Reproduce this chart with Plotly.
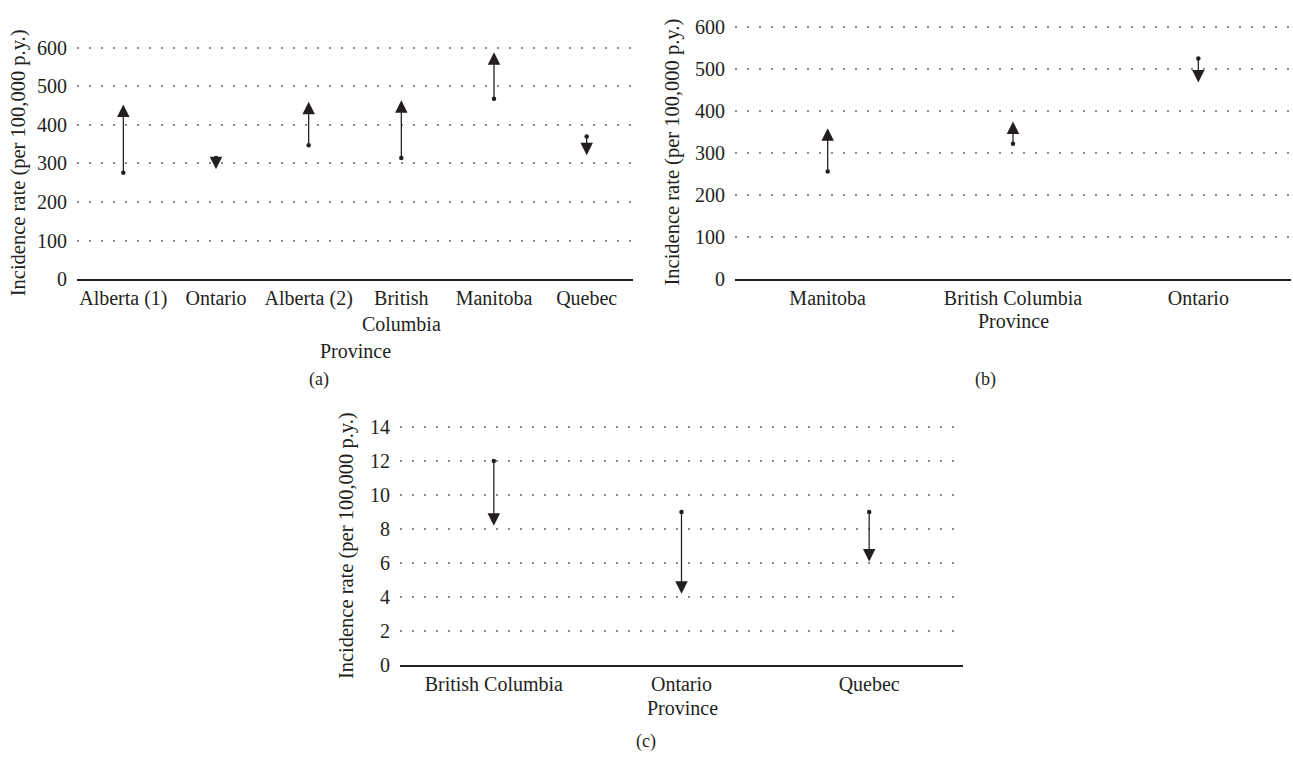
import plotly.graph_objects as go

FONT = "Liberation Serif"
INK = "#231f20"
GRID = "#8a8a8a"

# ---- data ----
a_categories = ["Alberta (1)", "Ontario", "Alberta (2)", "British<br>Columbia", "Manitoba", "Quebec"]
a_start = [276, 314, 347, 314, 468, 370]
a_end = [453, 285, 460, 464, 588, 321]

b_categories = ["Manitoba", "British Columbia", "Ontario"]
b_start = [255, 321, 524]
b_end = [358, 374, 467]

c_categories = ["British Columbia", "Ontario", "Quebec"]
c_start = [12, 9, 9]
c_end = [8.2, 4.2, 6.1]

y_ticks_ab = [0, 100, 200, 300, 400, 500, 600]
y_ticks_c = [0, 2, 4, 6, 8, 10, 12, 14]

W, H = 1293, 770

def px(x):
    return x / W

def py(y):
    return 1 - y / H

def ylayout(p0, ptop, vtop, extra):
    """domain/range so that 0 sits at pixel p0 and vtop at pixel ptop, with a bit of headroom."""
    per = (p0 - ptop) / vtop
    top_px = ptop - extra * per
    return [py(p0), py(top_px)], [0, vtop + extra]

fig = go.Figure()

panels = [
    ("x", "y", a_categories, a_start, a_end),
    ("x2", "y2", b_categories, b_start, b_end),
    ("x3", "y3", c_categories, c_start, c_end),
]

annotations = []
for xr, yr, cats, st, en in panels:
    idx = list(range(len(cats)))
    fig.add_trace(go.Scatter(
        x=idx, y=st, xaxis=xr, yaxis=yr, mode="markers",
        marker=dict(size=4.5, color=INK), hoverinfo="skip", showlegend=False,
        cliponaxis=False,
    ))
    for i, s, e in zip(idx, st, en):
        annotations.append(dict(
            xref=xr, yref=yr, axref=xr, ayref=yr,
            x=i, y=e, ax=i, ay=s, text="", showarrow=True,
            arrowhead=2, arrowsize=2.0, arrowwidth=1.25, arrowcolor=INK,
            standoff=0, startstandoff=0,
        ))

tickfont = dict(family=FONT, size=20, color=INK)

def xaxis_cfg(cats, dom, anchor):
    return dict(
        domain=dom, anchor=anchor, range=[-0.5, len(cats) - 0.5],
        tickmode="array", tickvals=list(range(len(cats))), ticktext=cats,
        showgrid=False, zeroline=False, showline=True, linecolor=INK, linewidth=1.5,
        ticks="", tickfont=tickfont, fixedrange=True,
    )

def yaxis_cfg(ticks, rng, dom, anchor):
    return dict(
        domain=dom, anchor=anchor, range=rng,
        tickmode="array", tickvals=ticks,
        showgrid=True, gridcolor=GRID, gridwidth=1.5, griddash="1.5px,10.5px",
        zeroline=False, showline=False, ticks="", ticklabelstandoff=9,
        tickfont=tickfont, fixedrange=True,
    )

ytitle = "Incidence rate (per 100,000 p.y.)"
textfont = dict(family=FONT, size=20.5, color=INK)

for x, y in [(18, 160), (673, 149), (346, 552)]:
    annotations.append(dict(xref="paper", yref="paper", x=px(x), y=py(y), text=ytitle,
                            textangle=-90, showarrow=False, font=textfont,
                            xanchor="center", yanchor="middle"))

for x, y in [(355, 352), (1013, 322), (682, 718)]:
    annotations.append(dict(xref="paper", yref="paper", x=px(x), y=py(y), text="Province",
                            showarrow=False, font=dict(family=FONT, size=20, color=INK),
                            xanchor="center", yanchor="middle"))

for x, y, t in [(319, 381, "(a)"), (985, 381, "(b)"), (646, 752, "(c)")]:
    annotations.append(dict(xref="paper", yref="paper", x=px(x), y=py(y), text=t,
                            showarrow=False, font=dict(family=FONT, size=18, color=INK),
                            xanchor="center", yanchor="middle"))

ya_dom, ya_rng = ylayout(278.7, 41.7, 600, 10)
yb_dom, yb_rng = ylayout(278.3, 20.0, 600, 10)
yc_dom, yc_rng = ylayout(674.0, 430.0, 14, 0.25)

fig.update_layout(
    width=W, height=H, margin=dict(l=0, r=0, t=0, b=0),
    paper_bgcolor="white", plot_bgcolor="white",
    showlegend=False, hovermode=False,
    xaxis=xaxis_cfg(a_categories, [px(77), px(633)], "y"),
    yaxis=yaxis_cfg(y_ticks_ab, ya_rng, ya_dom, "x"),
    xaxis2=xaxis_cfg(b_categories, [px(735), px(1291)], "y2"),
    yaxis2=yaxis_cfg(y_ticks_ab, yb_rng, yb_dom, "x2"),
    xaxis3=xaxis_cfg(c_categories, [px(400), px(963)], "y3"),
    yaxis3=yaxis_cfg(y_ticks_c, yc_rng, yc_dom, "x3"),
    annotations=annotations,
)

fig.write_html("out.html", config={"displayModeBar": False},
               post_script="document.body.style.margin='0';document.body.style.overflow='hidden';")
